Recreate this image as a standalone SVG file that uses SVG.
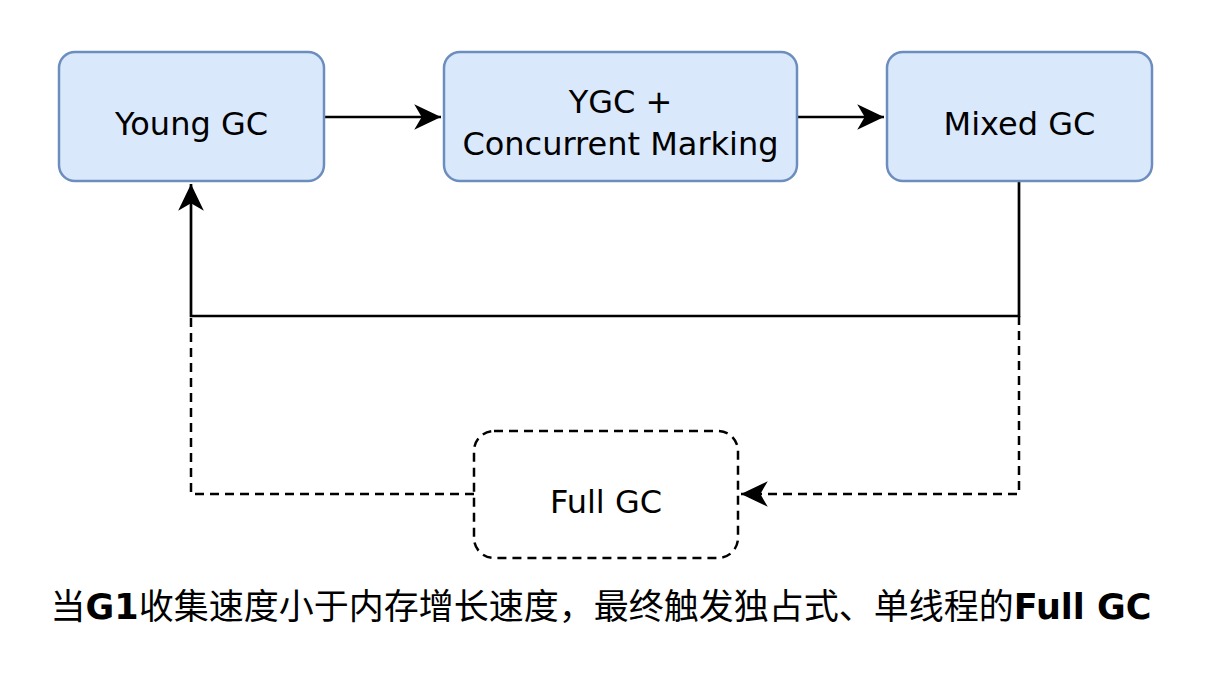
<svg xmlns="http://www.w3.org/2000/svg" width="1209" height="674" viewBox="0 0 1209 674">
<style>
.box{fill:#dae8fc;stroke:#6c8ebf;stroke-width:2.5}
.dbox{fill:#ffffff;stroke:#000;stroke-width:2.5;stroke-dasharray:9 6}
.lbl{font-family:"DejaVu Sans","Liberation Sans",sans-serif;font-size:32px;fill:#000;text-anchor:middle}
.line{fill:none;stroke:#000;stroke-width:2.7}
.dash{fill:none;stroke:#000;stroke-width:2.5;stroke-dasharray:9 6}
.cap{font-family:"Noto Sans CJK SC","Noto Sans",sans-serif;font-size:35px;fill:#000;text-anchor:middle}
.latin{font-family:"DejaVu Sans","Liberation Sans",sans-serif;font-weight:bold}
</style>
<defs>
<marker id="arr" markerUnits="userSpaceOnUse" markerWidth="30" markerHeight="30" viewBox="-26 -14 28 28" refX="0" refY="0" orient="auto">
<path d="M0,0 L-25,-12 L-18,0 L-25,12 Z" fill="#000"/>
</marker>
</defs>
<rect width="1209" height="674" fill="#ffffff"/>
<g id="connectors">
<path class="line" d="M324,117 L441,117" marker-end="url(#arr)"/>
<path class="line" d="M797,117 L884,117" marker-end="url(#arr)"/>
<path class="line" d="M1019,181 L1019,316 L191,316 L191,184" marker-end="url(#arr)"/>
<path class="dash" d="M1019,316 L1019,494 L741,494" marker-end="url(#arr)"/>
<path class="dash" d="M474,494 L191,494 L191,316"/>
</g>
<g id="young-gc">
<rect class="box" x="59" y="52" width="265" height="129" rx="16"/>
<text class="lbl" x="191.5" y="135">Young GC</text>
</g>
<g id="ygc-concurrent">
<rect class="box" x="444" y="52" width="353" height="129" rx="16"/>
<text class="lbl" x="620.5" y="113">YGC +</text>
<text class="lbl" x="620.5" y="155">Concurrent Marking</text>
</g>
<g id="mixed-gc">
<rect class="box" x="887" y="52" width="265" height="129" rx="16"/>
<text class="lbl" x="1019.5" y="135">Mixed GC</text>
</g>
<g id="full-gc">
<rect class="dbox" x="474" y="431" width="264" height="127" rx="20"/>
<text class="lbl" x="606" y="513">Full GC</text>
</g>
<g id="caption">
<text class="cap" x="601" y="619">当<tspan class="latin">G1</tspan>收集速度小于内存增长速度，最终触发独占式、单线程的<tspan class="latin">Full GC</tspan></text>
</g>
</svg>
